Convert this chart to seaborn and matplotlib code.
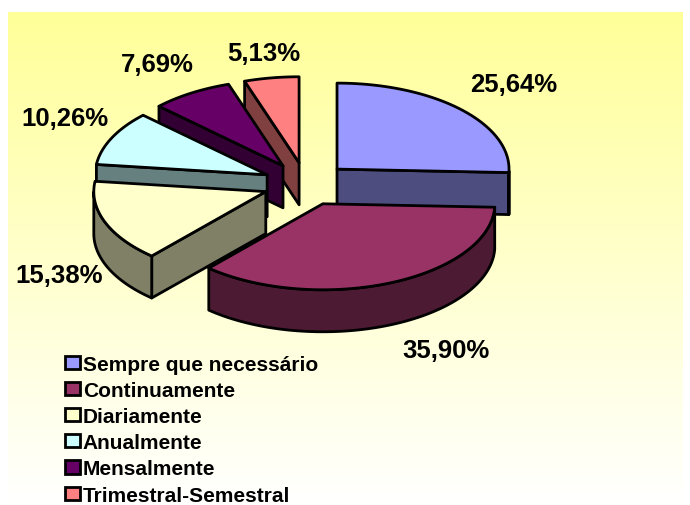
import numpy as np
import matplotlib
matplotlib.use('Agg')
import matplotlib.pyplot as plt
from matplotlib.patches import Polygon, Patch
import seaborn as sns

sns.set_theme(style="white")
plt.rcParams['font.family'] = ['Liberation Sans', 'DejaVu Sans']

# Data
categories = ['Sempre que necessário', 'Continuamente', 'Diariamente',
              'Anualmente', 'Mensalmente', 'Trimestral-Semestral']
values = [25.64, 35.90, 15.38, 10.26, 7.69, 5.13]
pct_labels = ['25,64%', '35,90%', '15,38%', '10,26%', '7,69%', '5,13%']

top_colors = sns.color_palette(['#9999FF', '#993366', '#FFFFCC', '#CCFFFF', '#660066', '#FF8080'])
side_colors = sns.color_palette(['#4D4D80', '#4D1A33', '#808066', '#668080', '#330033', '#804040'])

# layout of the pie in pixels
cx, cy = 306.0, 185.0
rx, ry = 172.0, 86.0
depth = 42
explode = 0.25
label_pos = [(514, 85), (446, 351), (59, 276), (65, 119), (157, 65), (264, 54)]

fig = plt.figure(figsize=(6.9, 5.06), dpi=100)
ax = fig.add_axes([0, 0, 1, 1])
ax.axis('off')

# yellow to white background
grad = np.linspace(0, 1, 256).reshape(-1, 1)
cmap = matplotlib.colors.LinearSegmentedColormap.from_list('bg', ['#FFFF99', '#FFFFFF'])
ax.imshow(grad, cmap=cmap, extent=(8, 683, 506, 13), aspect='auto', zorder=0)
ax.set_xlim(0, 690)
ax.set_ylim(506, 0)

# angles clockwise from 12 o'clock
edges = np.cumsum([0] + values) / sum(values) * 2 * np.pi


def pt(c, a, dy=0):
    return (c[0] + rx * np.sin(a), c[1] - ry * np.cos(a) + dy)


def draw_slice(i, z):
    a0, a1 = edges[i], edges[i + 1]
    mid = (a0 + a1) / 2
    c = (cx + explode * rx * np.sin(mid), cy - explode * ry * np.cos(mid))
    arc = np.linspace(a0, a1, 80)
    kw = dict(edgecolor='black', linewidth=2.0, joinstyle='round')
    # radial side walls, only those turned towards the viewer
    for a, visible in ((a0, a0 > np.pi), (a1, a1 < np.pi)):
        if visible:
            wall = [c, pt(c, a), pt(c, a, depth), (c[0], c[1] + depth)]
            ax.add_patch(Polygon(wall, facecolor=side_colors[i], zorder=z, **kw))
    # outer wall, only the part facing the viewer
    front = arc[(arc > np.pi / 2) & (arc < 3 * np.pi / 2)]
    if len(front):
        wall = [pt(c, a) for a in front] + [pt(c, a, depth) for a in front[::-1]]
        ax.add_patch(Polygon(wall, facecolor=side_colors[i], zorder=z + 0.1, **kw))
    top = [c] + [pt(c, a) for a in arc]
    ax.add_patch(Polygon(top, facecolor=top_colors[i], zorder=z + 0.2, **kw))


# back to front
for z, i in enumerate([5, 4, 3, 0, 2, 1]):
    draw_slice(i, z + 1)

for txt, (x, y) in zip(pct_labels, label_pos):
    ax.text(x, y, txt, ha='center', va='center', fontsize=18.5, fontweight='bold',
            color='black', zorder=10)

handles = [Patch(facecolor=col, edgecolor='black', linewidth=2.0) for col in top_colors]
ax.legend(handles, categories, loc='upper left', bbox_to_anchor=(63 / 690, 1 - 353.5 / 506),
          frameon=False, handlelength=0.73, handleheight=0.6, handletextpad=0.12,
          labelspacing=0.345, borderaxespad=0, borderpad=0.1, labelcolor='black',
          prop={'weight': 'bold', 'size': 15})

fig.savefig('out.png', dpi=100)
